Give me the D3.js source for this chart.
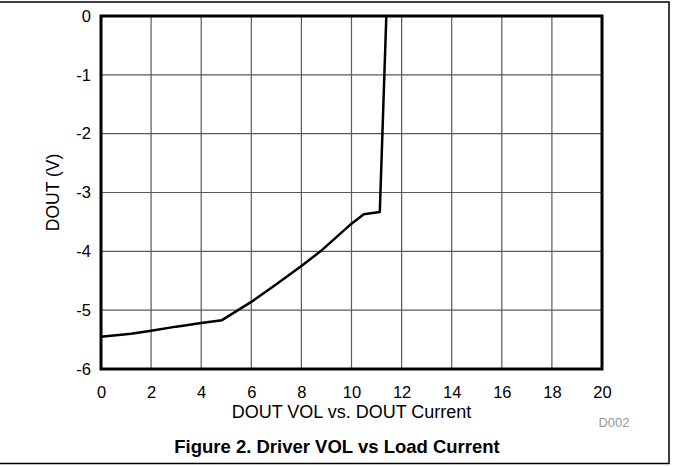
<!DOCTYPE html>
<meta charset="utf-8">
<script src="https://d3js.org/d3.v7.min.js"></script>
<style>
  body { margin: 0; background: #fff; }
  text { font-family: Arial, "Liberation Sans", sans-serif; }
</style>
<div id="my_dataviz"></div>
<script>
// DOUT current (x) and DOUT voltage (y)
var current = [0, 1.2, 2, 3, 4, 4.83, 6, 7, 8, 8.76, 10, 10.49, 11.13, 11.39];
var dout    = [-5.45, -5.40, -5.35, -5.28, -5.22, -5.17, -4.86, -4.56, -4.25, -4.0, -3.53, -3.37, -3.33, 0];
var xTicks = [0, 2, 4, 6, 8, 10, 12, 14, 16, 18, 20];
var yTicks = [0, -1, -2, -3, -4, -5, -6];

var width = 674, height = 466;
var plot = {left: 101, right: 602, top: 16, bottom: 369};

var svg = d3.select("#my_dataviz")
  .append("svg")
    .attr("width", width)
    .attr("height", height);

// outer figure frame (left edge falls off the page)
svg.append("rect")
  .attr("x", -2).attr("y", 2)
  .attr("width", 671).attr("height", 461.5)
  .attr("fill", "none")
  .attr("stroke", "#000")
  .attr("stroke-width", 1.5);

var x = d3.scaleLinear().domain([0, 20]).range([plot.left, plot.right]);
var y = d3.scaleLinear().domain([-6, 0]).range([plot.bottom, plot.top]);

// grid
svg.append("g")
  .selectAll("line")
  .data(xTicks.slice(1, -1))
  .enter().append("line")
    .attr("x1", function(d){ return x(d); })
    .attr("x2", function(d){ return x(d); })
    .attr("y1", plot.top).attr("y2", plot.bottom)
    .attr("stroke", "#5a5a5a").attr("stroke-width", 1.2);

svg.append("g")
  .selectAll("line")
  .data(yTicks.slice(1, -1))
  .enter().append("line")
    .attr("y1", function(d){ return y(d); })
    .attr("y2", function(d){ return y(d); })
    .attr("x1", plot.left).attr("x2", plot.right)
    .attr("stroke", "#5a5a5a").attr("stroke-width", 1.2);

// axes: labels only, frame drawn separately
var fmt = function(d){ return String(d); };   // plain hyphen minus, no decimals
var xAxis = svg.append("g")
  .attr("transform", "translate(0," + plot.bottom + ")")
  .call(d3.axisBottom(x).tickValues(xTicks).tickFormat(fmt).tickSize(0).tickPadding(17));
var yAxis = svg.append("g")
  .attr("transform", "translate(" + plot.left + ",0)")
  .call(d3.axisLeft(y).tickValues(yTicks).tickFormat(fmt).tickSize(0).tickPadding(10));
[xAxis, yAxis].forEach(function(a){
  a.select(".domain").remove();
  a.selectAll("text")
    .attr("font-family", "Arial, 'Liberation Sans', sans-serif")
    .attr("font-size", "16.5px")
    .attr("fill", "#000");
});

// curve
var line = d3.line()
  .x(function(d){ return x(d[0]); })
  .y(function(d){ return y(d[1]); });

svg.append("path")
  .datum(d3.zip(current, dout))
  .attr("d", line)
  .attr("fill", "none")
  .attr("stroke", "#000")
  .attr("stroke-width", 2.5)
  .attr("stroke-linejoin", "round");

// plot frame
svg.append("rect")
  .attr("x", plot.left).attr("y", plot.top)
  .attr("width", plot.right - plot.left)
  .attr("height", plot.bottom - plot.top)
  .attr("fill", "none")
  .attr("stroke", "#000")
  .attr("stroke-width", 3);

// titles
svg.append("text")
  .attr("x", (plot.left + plot.right) / 2)
  .attr("y", 418)
  .attr("text-anchor", "middle")
  .attr("font-size", "18px")
  .text("DOUT VOL vs. DOUT Current");

svg.append("text")
  .attr("transform", "translate(59," + ((plot.top + plot.bottom) / 2) + ") rotate(-90)")
  .attr("text-anchor", "middle")
  .attr("font-size", "17.5px")
  .text("DOUT (V)");

svg.append("text")
  .attr("x", 614)
  .attr("y", 426.5)
  .attr("text-anchor", "middle")
  .attr("font-size", "13px")
  .attr("fill", "#999")
  .text("D002");

svg.append("text")
  .attr("x", 337)
  .attr("y", 452.5)
  .attr("text-anchor", "middle")
  .attr("font-size", "18.5px")
  .attr("font-weight", "bold")
  .text("Figure 2. Driver VOL vs Load Current");
</script>
